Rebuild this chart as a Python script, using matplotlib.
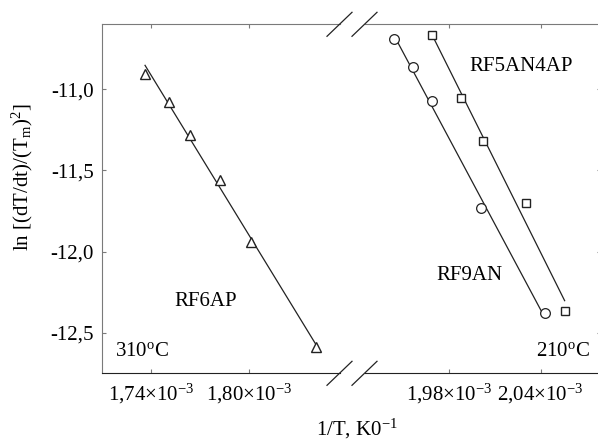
import numpy as np
import matplotlib
matplotlib.use("Agg")
import matplotlib.pyplot as plt
from matplotlib.lines import Line2D

plt.rcParams['font.family'] = 'serif'
plt.rcParams['font.serif'] = ['Liberation Serif', 'DejaVu Serif']
plt.rcParams['mathtext.fontset'] = 'custom'
plt.rcParams['mathtext.rm'] = 'Liberation Serif'
plt.rcParams['mathtext.it'] = 'Liberation Serif:italic'
plt.rcParams['font.size'] = 15

# data (1/T in K^-1, ln[(dT/dt)/Tm^2])
rf6ap_x = [1.7363e-3, 1.7512e-3, 1.7638e-3, 1.7821e-3, 1.8008e-3, 1.8407e-3]
rf6ap_y = [-10.906, -11.076, -11.285, -11.557, -11.940, -12.588]

rf9an_x = [1.9442e-3, 1.9562e-3, 1.9689e-3, 2.0011e-3, 2.0426e-3]
rf9an_y = [-10.691, -10.861, -11.072, -11.734, -12.381]

rf5an4ap_x = [1.9691e-3, 1.9880e-3, 2.0022e-3, 2.0302e-3, 2.0557e-3]
rf5an4ap_y = [-10.664, -11.052, -11.322, -11.703, -12.369]

yticks = [-11.0, -11.5, -12.0, -12.5]
ytick_labels = ['-11,0', '-11,5', '-12,0', '-12,5']
xticks_left = [1.74e-3, 1.80e-3]
xticks_right = [1.98e-3, 2.04e-3]
xlabels_left = [r'1,74$\times$10$^{-3}$', r'1,80$\times$10$^{-3}$']
xlabels_right = [r'1,98$\times$10$^{-3}$', r'2,04$\times$10$^{-3}$']

W, H = 598, 441
fig = plt.figure(figsize=(W / 100, H / 100), dpi=100)

def px_box(x0, x1, ytop, ybot):
    return [x0 / W, 1 - ybot / H, (x1 - x0) / W, (ybot - ytop) / H]

ax1 = fig.add_axes(px_box(102, 339.5, 24.3, 373.3))
ax2 = fig.add_axes(px_box(364.5, 601, 24.3, 373.3))

grey = '#7a7a7a'
dark = '#222222'

def fit_line(ax, x, y):
    k, b = np.polyfit(x, y, 1)
    xx = np.array([min(x), max(x)])
    ax.plot(xx, k * xx + b, color=dark, lw=0.9)

fit_line(ax1, rf6ap_x, rf6ap_y)
ax1.plot(rf6ap_x, rf6ap_y, ls='none', marker='^', ms=7, mfc='white', mec=dark, mew=1.0)

fit_line(ax2, rf9an_x, rf9an_y)
fit_line(ax2, rf5an4ap_x, rf5an4ap_y)
ax2.plot(rf9an_x, rf9an_y, ls='none', marker='o', ms=7, mfc='white', mec=dark, mew=0.9)
ax2.plot(rf5an4ap_x, rf5an4ap_y, ls='none', marker='s', ms=5.5, mfc='white', mec=dark, mew=1.0)

ax1.set_xlim(1.710e-3, 1.8551e-3)
ax2.set_xlim(1.9247e-3, 2.0795e-3)
for ax in (ax1, ax2):
    ax.set_ylim(-12.75, -10.60)
    ax.spines['top'].set_color(grey)
    ax.spines['bottom'].set_color(dark)
    ax.spines['left'].set_color(grey)
    ax.spines['right'].set_color(grey)
    ax.tick_params(direction='in', length=3, width=0.8, color=grey,
                   top=True, labelsize=15, pad=6)

ax1.spines['right'].set_visible(False)
ax2.spines['left'].set_visible(False)

ax1.set_xticks(xticks_left)
ax1.set_xticklabels(xlabels_left)
ax1.set_yticks(yticks)
ax1.set_yticklabels(ytick_labels)
ax1.tick_params(axis='y', left=True, right=False)

ax2.set_xticks(xticks_right)
ax2.set_xticklabels(xlabels_right)
ax2.set_yticks(yticks)
ax2.tick_params(axis='y', left=False, right=True, labelleft=False, labelright=False)

ax1.text(1.7736e-3, -12.308, 'RF6AP', ha='center', va='center')
ax1.text(1.7180e-3, -12.615, r'310$^{\mathrm{o}}$C', ha='left', va='center')
ax2.text(1.9937e-3, -12.148, 'RF9AN', ha='center', va='center')
ax2.text(2.0271e-3, -10.863, 'RF5AN4AP', ha='center', va='center')
ax2.text(2.0723e-3, -12.615, r'210$^{\mathrm{o}}$C', ha='right', va='center')

# axis break marks
for cx in (339.5, 364.5):
    for cy in (24.3, 373.3):
        fig.add_artist(Line2D([(cx - 12.5) / W, (cx + 12.5) / W],
                              [1 - (cy + 12) / H, 1 - (cy - 12) / H],
                              color=dark, lw=0.9))

fig.text(357 / W, 1 - 429 / H, r'1/T, K0$^{-1}$', ha='center', va='center')
fig.text(22 / W, 1 - 177 / H, r'ln [(dT/dt)/(T$_{\mathrm{m}}$)$^{2}$]',
         ha='center', va='center', rotation=90)

fig.savefig('out.png', dpi=100)
